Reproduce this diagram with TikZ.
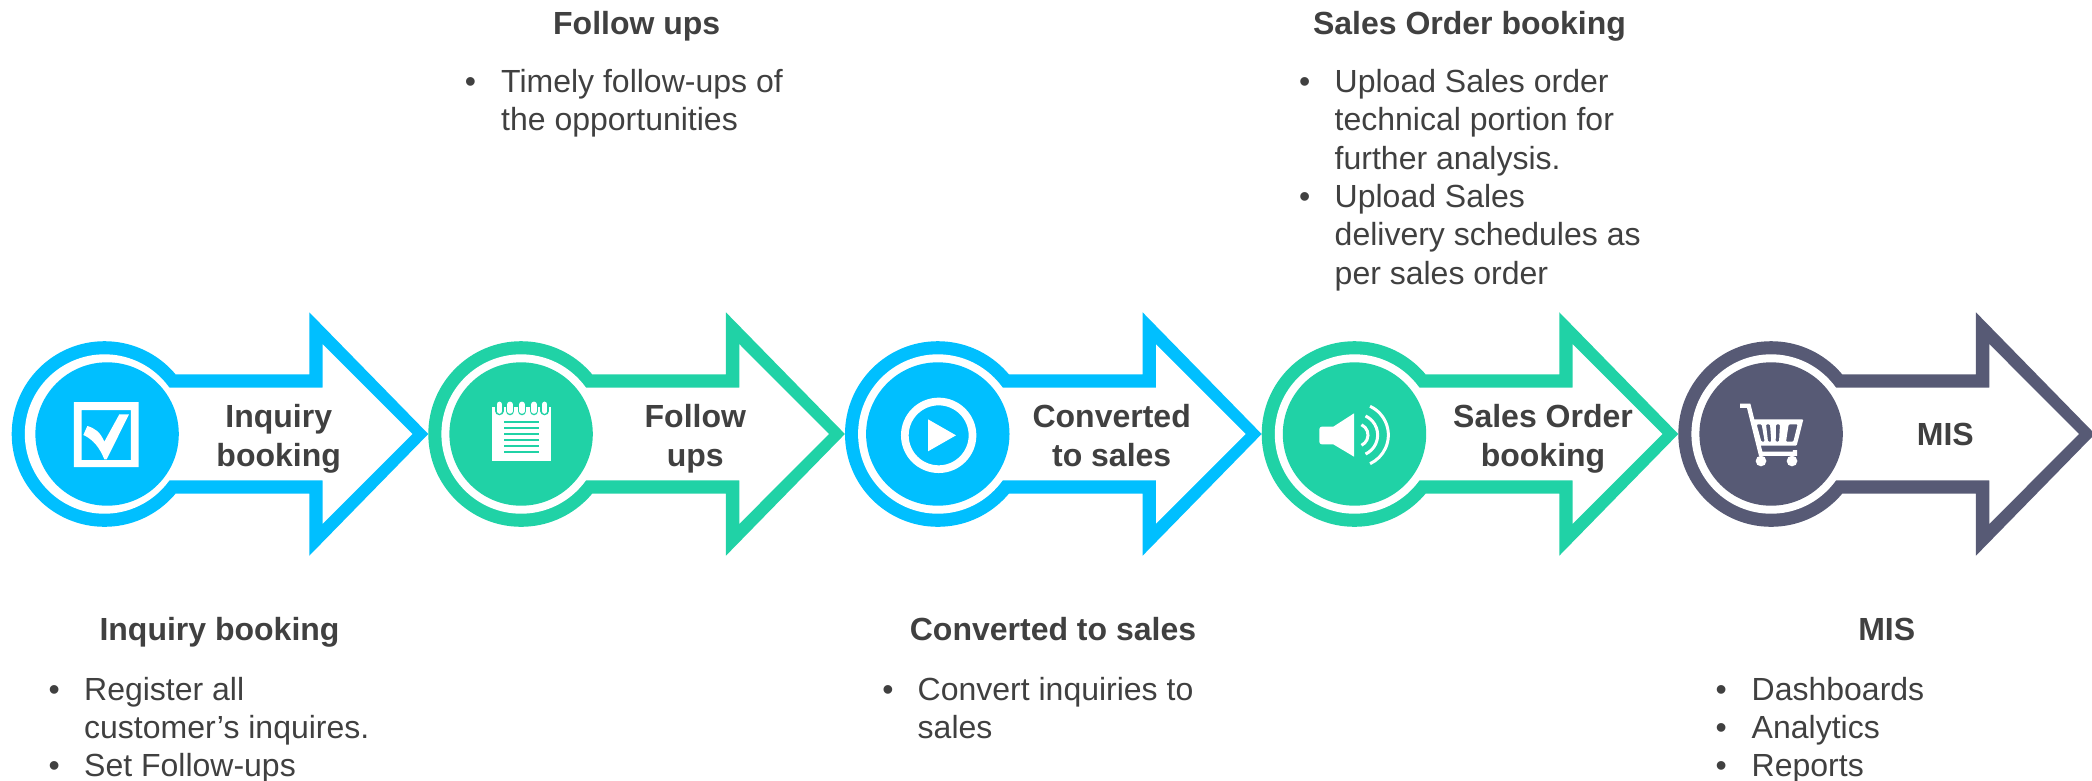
\documentclass[tikz,border=0pt]{standalone}
\usepackage{fontspec}
\setmainfont{Liberation Sans}
\definecolor{cblue}{HTML}{00BFFF}
\definecolor{cgreen}{HTML}{20D2A6}
\definecolor{cslate}{HTML}{575A75}
\definecolor{ctext}{HTML}{404040}
\newcommand{\bigarrow}[4]{%
 \begin{scope}[shift={(#2,434)}]
  \fill[#3] (92.8,0) circle[radius=92.8];
  \fill[#3] (164,59.7) -- (297.6,59.7) -- (297.6,121.7) -- (416.6,0) -- (297.6,-121.7) -- (297.6,-59.7) -- (164,-59.7) -- cycle;
  \fill[white] (150,46.3) -- (311,46.3) -- (311,89.7) -- (400.6,0) -- (311,-89.7) -- (311,-46.3) -- (150,-46.3) -- cycle;
  \fill[white] (92.8,0) circle[radius=79.7];
  \fill[#3] (92.8+#4,0) circle[radius=71.7];
 \end{scope}}
\tikzset{
 lbl/.style={text=ctext,font=\bfseries\fontsize{32}{38.4}\selectfont,align=center,inner sep=0pt,anchor=base},
 hd/.style={text=ctext,font=\bfseries\fontsize{32}{38.4}\selectfont,inner sep=0pt,anchor=base},
 bodytext/.style={text=ctext,font=\fontsize{32}{38.4}\selectfont,inner sep=0pt,anchor=base west},
 bul/.style={text=ctext,font=\fontsize{32}{38.4}\selectfont,inner sep=0pt,anchor=base},
 icon/.style={scale=1/3}
}
\begin{document}
\begin{tikzpicture}[x=1pt,y=-1pt]
\useasboundingbox (0,0) rectangle (2092,780);
\begin{scope}
\clip (0,0) rectangle (2092,780);
\bigarrow{aa}{11.7}{cblue}{2.6}
\bigarrow{ab}{428.3}{cgreen}{0}
\bigarrow{ac}{845}{cblue}{0}
\bigarrow{ad}{1261.7}{cgreen}{0}
\bigarrow{ae}{1678.3}{cslate}{0}
% icon 1
\begin{scope}[shift={(0,300)},icon]
 \fill[white,even odd rule] (222,306) rectangle (416,501) (245,330) rectangle (393,480);
 \fill[white] (250,405) -- (262,378) .. controls (285,385) and (300,395) .. (313,425) -- (358,343) -- (387,343) -- (320,478) -- (313,478) .. controls (300,445) and (280,418) .. (250,405) -- cycle;
\end{scope}
% icon 2
\begin{scope}[shift={(420,300)},icon]
 \fill[white] (216,322) rectangle (394,483);
 \foreach \x in {238,270,306,342,374} {
  \draw[cgreen,line width=8.5pt,line cap=round] (\x,312) -- (\x,333);
  \fill[cgreen] (\x-13,300) rectangle (\x+13,320);
  \draw[white,line width=5.5pt,line cap=round] (\x,313) -- (\x,333);
 }
 \foreach \y in {367,385,403,421,439,457}
  \draw[cgreen,line width=2.3pt] (252,\y) -- (358,\y);
\end{scope}
% icon 3
\begin{scope}[shift={(840,300)},icon]
 \draw[white,line width=7.7pt] (296,406) circle[radius=101.5];
 \fill[white] (264,358) -- (348,406) -- (264,454) -- cycle;
\end{scope}
% icon 4
\begin{scope}[shift={(1250,300)},icon]
 \fill[white,rounded corners=2.5pt] (208,380) rectangle (258,433);
 \fill[white] (250,380) -- (312,340) -- (312,470) -- (250,433) -- cycle;
 \foreach \r in {34,63,95}
  \draw[white,line width=3pt] ({320+\r*cos(65)},{405-\r*sin(65)}) arc[start angle=-65,end angle=65,radius=\r];
\end{scope}
% icon 5
\begin{scope}[shift={(1660,300)},icon]
 \draw[white,line width=4.3pt] (240,317) -- (266,317) -- (302,461) -- (405,461) -- (405,450);
 \fill[white,even odd rule,rounded corners=1pt] (279,358) -- (430,358) -- (410,437) -- (298,437) -- cycle
  (290,373) -- (305,373) -- (314,425) -- (304,425) -- cycle
  (318,373) -- (330,373) -- (334,425) -- (324,425) -- cycle
  (348,373) -- (360,373) -- (357,425) -- (347,425) -- cycle
  (386,373) -- (413,373) -- (400,425) -- (378,425) -- cycle;
 \fill[white] (303,483) circle[radius=16] (396,483) circle[radius=16];
\end{scope}
\end{scope}
% arrow labels
\node[lbl] (la) at (278.7,466.3) {Inquiry\\booking};
\node[lbl] (lb) at (695.3,466.3) {Follow\\ups};
\node[lbl] (lc) at (1111.7,466.3) {Converted\\to sales};
\node[lbl] (ld) at (1543,466.3) {Sales Order\\booking};
\node[lbl] (le) at (1945.3,445.7) {MIS};
% headings
\node[hd] (ha) at (219.5,640.5) {Inquiry booking};
\node[hd] (hb) at (636.7,34) {Follow ups};
\node[hd] (hc) at (1053,640.5) {Converted to sales};
\node[hd] (hd) at (1469.5,34) {Sales Order booking};
\node[hd] (he) at (1886.7,640.5) {MIS};
% column 1
\node[bul] (b1a) at (54.3,700) {•};
\node[bodytext] (t1a) at (84,700) {Register all};
\node[bodytext] (t1b) at (84,738.3) {customer’s inquires.};
\node[bul] (b1b) at (54.3,776.7) {•};
\node[bodytext] (t1c) at (84,776.7) {Set Follow-ups};
% column 2
\node[bul] (b2a) at (470.5,92.4) {•};
\node[bodytext] (t2a) at (501,92.4) {Timely follow-ups of};
\node[bodytext] (t2b) at (501,130.7) {the opportunities};
% column 3
\node[bul] (b3a) at (888,700) {•};
\node[bodytext] (t3a) at (917.5,700) {Convert inquiries to};
\node[bodytext] (t3b) at (917.5,738.3) {sales};
% column 4
\node[bul] (b4a) at (1304.8,92.4) {•};
\node[bodytext] (t4a) at (1334.5,92.4) {Upload Sales order};
\node[bodytext] (t4b) at (1334.5,130.7) {technical portion for};
\node[bodytext] (t4c) at (1334.5,169.1) {further analysis.};
\node[bul] (b4b) at (1304.8,207.5) {•};
\node[bodytext] (t4d) at (1334.5,207.5) {Upload Sales};
\node[bodytext] (t4e) at (1334.5,245.9) {delivery schedules as};
\node[bodytext] (t4f) at (1334.5,284.3) {per sales order};
% column 5
\node[bul] (b5a) at (1721.2,700) {•};
\node[bodytext] (t5a) at (1751.5,700) {Dashboards};
\node[bul] (b5b) at (1721.2,738.3) {•};
\node[bodytext] (t5b) at (1751.5,738.3) {Analytics};
\node[bul] (b5c) at (1721.2,776.7) {•};
\node[bodytext] (t5c) at (1751.5,776.7) {Reports};
\end{tikzpicture}
\end{document}
